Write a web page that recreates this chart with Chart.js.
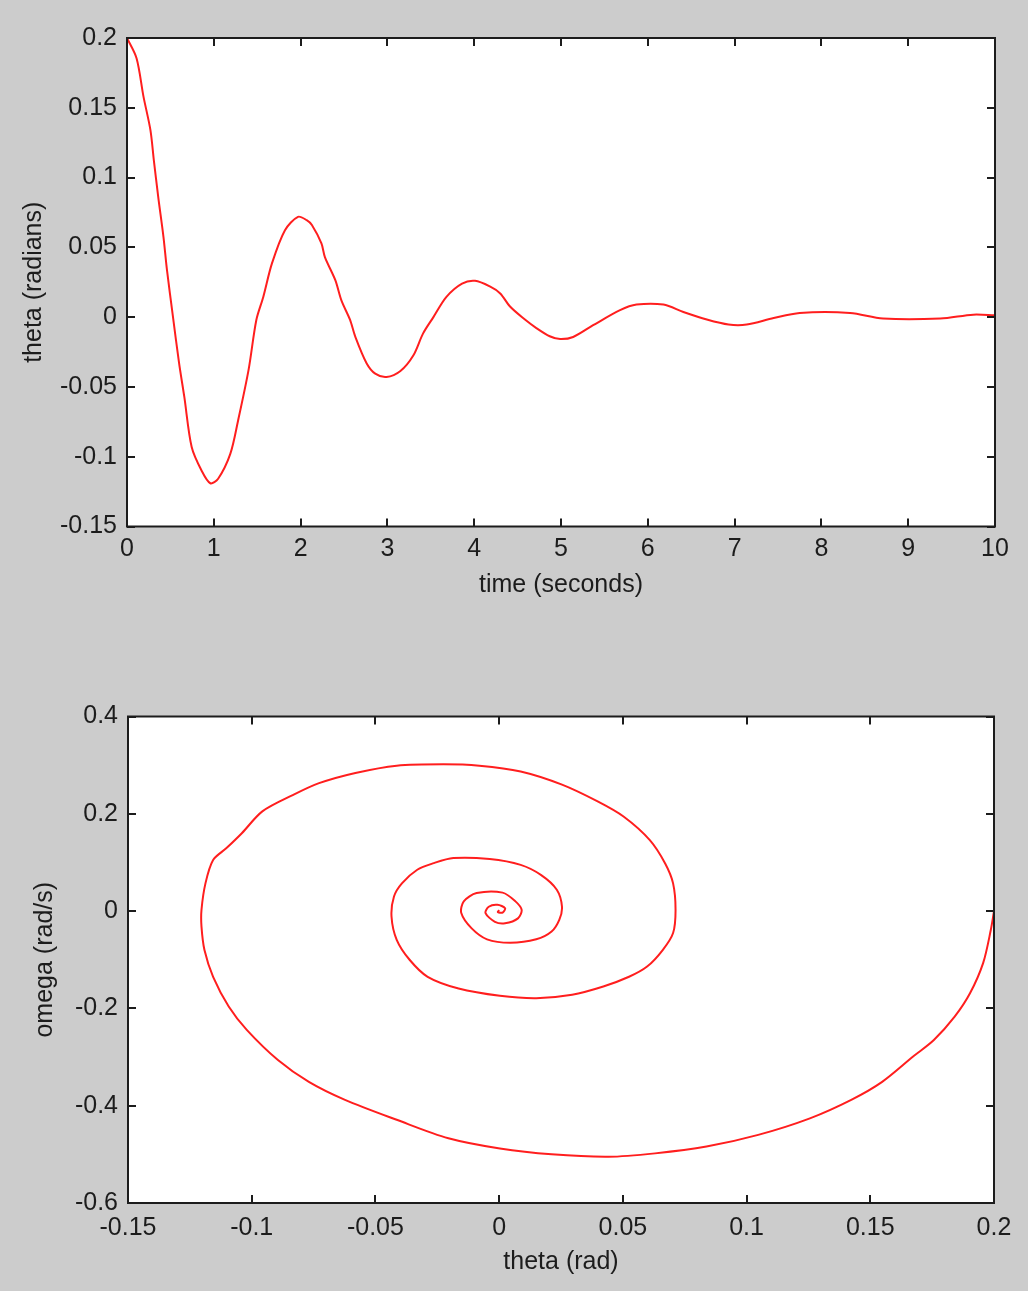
<!DOCTYPE html>
<html>
<head>
<meta charset="utf-8">
<script src="https://cdn.jsdelivr.net/npm/chart.js@4/dist/chart.umd.min.js"></script>
<style>
  html, body { margin: 0; padding: 0; background: #cccccc; }
  body { width: 1028px; height: 1291px; position: relative; overflow: hidden; }
  canvas { position: absolute; left: 0; }
  #timeChart { top: 0; }
  #phaseChart { top: 640px; }
</style>
</head>
<body>
<canvas id="timeChart" width="1028" height="620"></canvas>
<canvas id="phaseChart" width="1028" height="651"></canvas>
<script>
// theta vs time
const timeValues = [0, 0.11, 0.19, 0.27, 0.31, 0.36, 0.42, 0.46, 0.53, 0.60, 0.66, 0.745, 0.86, 0.96, 1.05, 1.19, 1.28, 1.40, 1.49, 1.57, 1.67, 1.82, 1.97, 2.07, 2.13, 2.24, 2.28, 2.40, 2.47, 2.57, 2.63, 2.76, 2.86, 2.99, 3.15, 3.30, 3.41, 3.53, 3.68, 3.86, 4.01, 4.18, 4.30, 4.41, 4.57, 4.72, 4.87, 4.99, 5.14, 5.37, 5.68, 5.87, 6.18, 6.41, 6.68, 6.93, 7.14, 7.45, 7.75, 8.33, 8.71, 9.37, 9.75, 10];
const thetaValues = [0.2, 0.1855, 0.158, 0.134, 0.112, 0.086, 0.0575, 0.034, 0.0, -0.033, -0.057, -0.093, -0.110, -0.119, -0.1158, -0.098, -0.074, -0.038, -0.002, 0.0145, 0.0385, 0.0623, 0.0719, 0.0695, 0.066, 0.0528, 0.043, 0.0265, 0.012, -0.002, -0.014, -0.033, -0.0405, -0.0429, -0.0386, -0.0273, -0.0118, 0.0, 0.0145, 0.024, 0.026, 0.022, 0.017, 0.0078, -0.001, -0.008, -0.0137, -0.0157, -0.0142, -0.0058, 0.005, 0.009, 0.009, 0.0037, -0.0017, -0.0053, -0.0053, -0.0006, 0.003, 0.003, -0.001, -0.001, 0.0018, 0.0013];

// phase portrait: theta (rad) against omega (rad/s)
const phaseTheta = [0.2, 0.1987, 0.1956, 0.1903, 0.1841, 0.1757, 0.1673, 0.1548, 0.1423, 0.1256, 0.1047, 0.0838, 0.0630, 0.0442, 0.0212, 0.0003, -0.0205, -0.0414, -0.0623, -0.0769, -0.0894, -0.1020, -0.1093, -0.1156, -0.1191, -0.1203, -0.1203, -0.1187, -0.1156, -0.1103, -0.1040, -0.0957, -0.0832, -0.0728, -0.0581, -0.0414, -0.0226, -0.0080, 0.0087, 0.0254, 0.0400, 0.0504, 0.0609, 0.0671, 0.0703, 0.0713, 0.0703, 0.0661, 0.0598, 0.0525, 0.0421, 0.0295, 0.0150, 0.0003, -0.0164, -0.0289, -0.0362, -0.0414, -0.0435, -0.0425, -0.0393, -0.0331, -0.0268, -0.0185, -0.0038, 0.0087, 0.0170, 0.0233, 0.0254, 0.0243, 0.0212, 0.0150, 0.0045, -0.0049, -0.0112, -0.0153, -0.0143, -0.0091, 0.0014, 0.0066, 0.0091, 0.0076, 0.0024, -0.0017, -0.0055, -0.0042, -0.0007, 0.0024, 0.0014, -0.0005, 0.0];
const phaseOmega = [0, -0.039, -0.107, -0.169, -0.217, -0.265, -0.299, -0.351, -0.388, -0.426, -0.460, -0.484, -0.498, -0.505, -0.500, -0.488, -0.467, -0.429, -0.388, -0.351, -0.306, -0.244, -0.196, -0.135, -0.080, -0.032, 0.0025, 0.057, 0.105, 0.129, 0.160, 0.205, 0.239, 0.263, 0.284, 0.299, 0.302, 0.299, 0.287, 0.260, 0.225, 0.194, 0.146, 0.098, 0.057, 0.0025, -0.045, -0.080, -0.114, -0.135, -0.155, -0.172, -0.179, -0.174, -0.159, -0.135, -0.100, -0.059, -0.011, 0.030, 0.057, 0.085, 0.098, 0.109, 0.107, 0.095, 0.074, 0.044, 0.009, -0.018, -0.042, -0.058, -0.065, -0.058, -0.035, -0.004, 0.020, 0.037, 0.038, 0.020, 0.0025, -0.015, -0.025, -0.022, -0.004, 0.009, 0.013, 0.006, -0.003, -0.002, 0.002];

// tick values
const timeTicks = [0, 1, 2, 3, 4, 5, 6, 7, 8, 9, 10];
const thetaTicks = [-0.15, -0.1, -0.05, 0, 0.05, 0.1, 0.15, 0.2];
const phaseThetaTicks = [-0.15, -0.1, -0.05, 0, 0.05, 0.1, 0.15, 0.2];
const omegaTicks = [-0.6, -0.4, -0.2, 0, 0.2, 0.4];

const FONT = "'Liberation Sans', Arial, Helvetica, sans-serif";
const INK = '#1c1c1c';
const RED = 'rgb(255, 30, 30)';

// matlab style box with inward ticks on all four sides
const boxTicks = {
  id: 'boxTicks',
  afterDraw(chart) {
    const { ctx, chartArea: a, scales } = chart;
    const len = 8;
    ctx.save();
    ctx.strokeStyle = INK;
    ctx.lineWidth = 2;
    ctx.beginPath();
    scales.x.ticks.forEach(t => {
      const px = Math.round(scales.x.getPixelForValue(t.value));
      ctx.moveTo(px, a.bottom); ctx.lineTo(px, a.bottom - len);
      ctx.moveTo(px, a.top); ctx.lineTo(px, a.top + len);
    });
    scales.y.ticks.forEach(t => {
      const py = Math.round(scales.y.getPixelForValue(t.value));
      ctx.moveTo(a.left, py); ctx.lineTo(a.left + len, py);
      ctx.moveTo(a.right, py); ctx.lineTo(a.right - len, py);
    });
    ctx.stroke();
    ctx.strokeRect(a.left, a.top, a.right - a.left, a.bottom - a.top);
    ctx.restore();
  }
};

const whiteArea = {
  id: 'whiteArea',
  beforeDraw(chart) {
    const { ctx, chartArea: a } = chart;
    ctx.save();
    ctx.fillStyle = '#ffffff';
    ctx.fillRect(a.left, a.top, a.right - a.left, a.bottom - a.top);
    ctx.restore();
  }
};

function makeAxis(tickList, min, max, title, opts) {
  return {
    type: 'linear',
    min: min,
    max: max,
    afterBuildTicks: s => { s.ticks = tickList.map(v => ({ value: v })); },
    afterFit: opts.fit,
    border: { display: false },
    grid: { display: false, drawTicks: false },
    ticks: {
      color: INK,
      padding: opts.tickPad,
      autoSkip: false,
      maxRotation: 0,
      font: { family: FONT, size: 25 },
      callback: v => String(v)
    },
    title: {
      display: true,
      text: title,
      color: INK,
      font: { family: FONT, size: 25 },
      padding: opts.titlePad
    }
  };
}

function makeChart(id, points, xAxis, yAxis, padding) {
  return new Chart(document.getElementById(id), {
    type: 'scatter',
    data: {
      datasets: [{
        data: points,
        showLine: true,
        borderColor: RED,
        borderWidth: 2,
        pointRadius: 0,
        tension: 0.3
      }]
    },
    options: {
      responsive: false,
      animation: false,
      devicePixelRatio: 1,
      layout: { padding: padding },
      plugins: { legend: { display: false }, tooltip: { enabled: false } },
      scales: { x: xAxis, y: yAxis }
    },
    plugins: [whiteArea, boxTicks]
  });
}

makeChart('timeChart',
  timeValues.map((t, i) => ({ x: t, y: thetaValues[i] })),
  makeAxis(timeTicks, 0, 10, 'time (seconds)', {
    fit: s => { s.height = 93.5; }, tickPad: 8, titlePad: { top: 0, bottom: 20 }
  }),
  makeAxis(thetaTicks, -0.15, 0.2, 'theta (radians)', {
    fit: s => { s.width = 127; }, tickPad: 10, titlePad: { top: 19, bottom: 0 }
  }),
  { top: 38, right: 33, left: 0, bottom: 0 }
);

makeChart('phaseChart',
  phaseTheta.map((v, i) => ({ x: v, y: phaseOmega[i] })),
  makeAxis(phaseThetaTicks, -0.15, 0.2, 'theta (rad)', {
    fit: s => { s.height = 88; }, tickPad: 10, titlePad: { top: 0, bottom: 14 }
  }),
  makeAxis(omegaTicks, -0.6, 0.4, 'omega (rad/s)', {
    fit: s => { s.width = 128; }, tickPad: 10, titlePad: { top: 30, bottom: 0 }
  }),
  { top: 76.5, right: 34, left: 0, bottom: 0 }
);
</script>
</body>
</html>
